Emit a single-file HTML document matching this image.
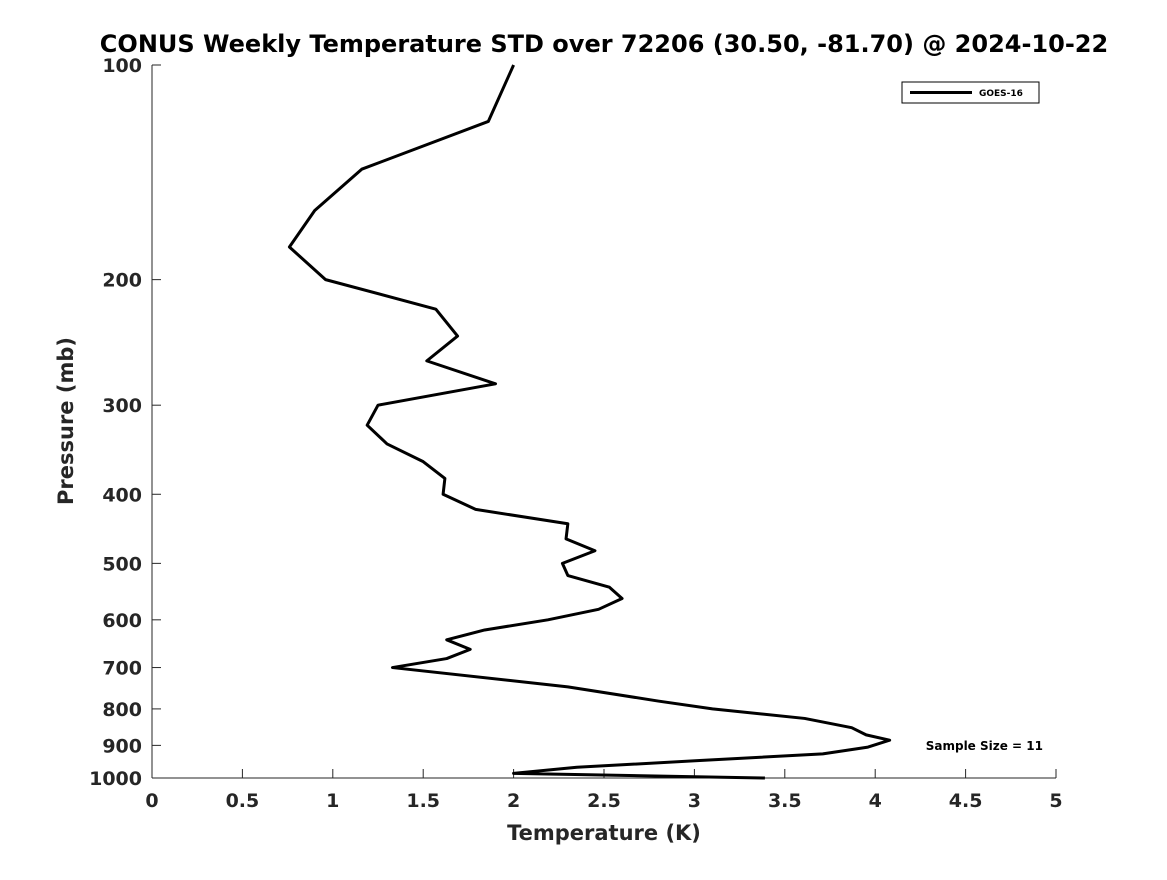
<!DOCTYPE html>
<html><head><meta charset="utf-8"><style>
body{margin:0;background:#fff;}
svg text{font-family:"DejaVu Sans","Liberation Sans",sans-serif;font-weight:bold;fill:#262626;}
</style></head><body>
<svg width="1167" height="875" xmlns="http://www.w3.org/2000/svg">
<rect width="1167" height="875" fill="#fff"/>
<text x="604" y="52" text-anchor="middle" font-size="24" style="fill:#000">CONUS Weekly Temperature STD over 72206 (30.50, -81.70) @ 2024-10-22</text>
<g id="axes"></g>
<polyline id="line" fill="none" stroke="#000" stroke-width="3" stroke-linejoin="round"/>
<text x="604" y="840" text-anchor="middle" font-size="21">Temperature (K)</text>
<text transform="translate(73,421) rotate(-90)" text-anchor="middle" font-size="21">Pressure (mb)</text>
<g>
<rect x="902" y="82" width="137" height="21" fill="#fff" stroke="#000" stroke-width="1"/>
<line x1="910" y1="92.5" x2="972" y2="92.5" stroke="#000" stroke-width="3"/>
<text x="979" y="96" font-size="9" style="fill:#000">GOES-16</text>
</g>
<text x="1043" y="750" text-anchor="end" font-size="12" style="fill:#000">Sample Size = 11</text>
</svg>
<script>
const temps=[2.0,1.86,1.16,0.90,0.76,0.96,1.57,1.69,1.52,1.90,1.25,1.19,1.30,1.50,1.62,1.61,1.79,2.30,2.29,2.45,2.27,2.30,2.53,2.60,2.47,2.19,1.84,1.63,1.76,1.63,1.33,2.30,2.80,3.10,3.61,3.87,3.95,4.08,3.96,3.71,3.03,2.35,2.00,3.39];
const pressures=[100,120,140,160,180,200,220,240,260,280,300,320,340,360,380,400,420,440,462,480,500,520,540,560,580,600,620,640,660,680,700,745,780,800,825,850,870,885,905,925,945,966,985,1000];
const xTicks=[0,0.5,1,1.5,2,2.5,3,3.5,4,4.5,5];
const xTickLabels=["0","0.5","1","1.5","2","2.5","3","3.5","4","4.5","5"];
const yTicks=[100,200,300,400,500,600,700,800,900,1000];
const x0=152,x1=1056,yTop=65,yBot=778;
function xs(v){return x0+(v-0)/(5-0)*(x1-x0);}
function ys(p){return yTop+(Math.log10(p)-2)/(1)*(yBot-yTop);}
const NS="http://www.w3.org/2000/svg";
const ax=document.getElementById('axes');
function mk(t,a){const e=document.createElementNS(NS,t);for(const k in a)e.setAttribute(k,a[k]);return e;}
let l=mk('line',{x1:x0,y1:yBot,x2:x1,y2:yBot,stroke:'#262626','stroke-width':1});


ax.appendChild(l);
l=mk('line',{x1:x0,y1:yTop,x2:x0,y2:yBot,stroke:'#262626','stroke-width':1});


ax.appendChild(l);
xTicks.forEach((v,i)=>{
 const t=mk('line',{x1:xs(v),y1:yBot,x2:xs(v),y2:yBot-9,stroke:'#262626','stroke-width':1});
 
 
 ax.appendChild(t);
 const tx=mk('text',{x:xs(v),y:yBot+29,'text-anchor':'middle','font-size':19});
 
 
 tx.textContent=xTickLabels[i];ax.appendChild(tx);
});
yTicks.forEach(p=>{
 const t=mk('line',{x1:x0,y1:ys(p),x2:x0+9,y2:ys(p),stroke:'#262626','stroke-width':1});
 
 
 ax.appendChild(t);
 const tx=mk('text',{x:x0-10,y:ys(p)+7,'text-anchor':'end','font-size':19});
 
 
 tx.textContent=String(p);ax.appendChild(tx);
});
document.getElementById('line').setAttribute('points',temps.map((t,i)=>xs(t)+','+ys(pressures[i])).join(' '));
</script>
</body></html>
